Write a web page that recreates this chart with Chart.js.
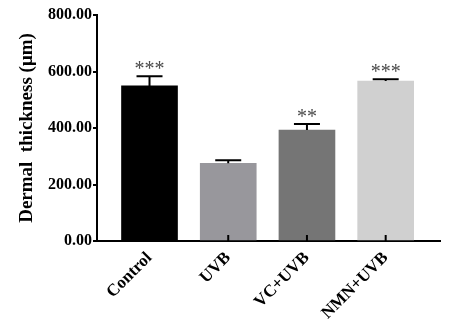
<!DOCTYPE html>
<html>
<head>
<meta charset="utf-8">
<script src="https://cdn.jsdelivr.net/npm/chart.js@4/dist/chart.umd.min.js"></script>
<style>
  body { margin: 0; background: #fff; }
  #wrap { width: 460px; height: 330px; }
</style>
</head>
<body>
<div id="wrap"><canvas id="chart" width="460" height="330"></canvas></div>
<script>
const categories = ["Control", "UVB", "VC+UVB", "NMN+UVB"];
const thickness = [549, 275, 393, 566];
const errors = [34, 11, 21, 7];
const stars = ["***", "", "**", "***"];
const barColors = ["#000000", "#98979c", "#757575", "#d0d0d0"];
const yTicks = [0, 200, 400, 600, 800];

const serif = "'Liberation Serif', 'Times New Roman', serif";

// error bars, inner x ticks and significance stars
const extras = {
    id: "extras",
    afterDatasetsDraw(chart) {
        const ctx = chart.ctx;
        const y = chart.scales.y;
        const x = chart.scales.x;
        const meta = chart.getDatasetMeta(0);
        ctx.save();
        ctx.strokeStyle = "#000";
        ctx.lineWidth = 2;
        meta.data.forEach((bar, i) => {
            let top = y.getPixelForValue(thickness[i] + errors[i]);
            let base = y.getPixelForValue(thickness[i]);
            ctx.beginPath();
            ctx.moveTo(bar.x, base);
            ctx.lineTo(bar.x, top);
            ctx.moveTo(bar.x - 13, top);
            ctx.lineTo(bar.x + 13, top);
            ctx.stroke();

            ctx.beginPath();
            ctx.moveTo(bar.x, x.top);
            ctx.lineTo(bar.x, x.top - 6);
            ctx.stroke();

            if (stars[i]) {
                ctx.fillStyle = "#4a4a4a";
                ctx.font = "20px " + serif;
                ctx.textAlign = "center";
                ctx.textBaseline = "alphabetic";
                ctx.fillText(stars[i], bar.x, top - 1);
            }
        });
        ctx.restore();
    }
};

new Chart(document.getElementById("chart"), {
    type: "bar",
    data: {
        datasets: [{
            data: thickness.map((v, i) => ({ x: i, y: v })),
            backgroundColor: barColors,
            borderWidth: 0,
            barThickness: 56
        }]
    },
    options: {
        responsive: false,
        animation: false,
        plugins: { legend: { display: false }, tooltip: { enabled: false } },
        layout: { padding: { top: 15, right: 20, left: 0, bottom: 0 } },
        scales: {
            x: {
                type: "linear",
                offset: false,
                min: -0.667,
                max: 3.69,
                afterFit: s => { s.height = 89; },
                border: { display: true, color: "#000", width: 2 },
                grid: { display: false, drawTicks: false },
                ticks: {
                    stepSize: 1,
                    includeBounds: false,
                    autoSkip: false,
                    minRotation: 45,
                    maxRotation: 45,
                    padding: 7,
                    color: "#000",
                    font: { family: serif, size: 17, weight: "bold" },
                    callback: v => Number.isInteger(v) ? categories[v] : ""
                }
            },
            y: {
                min: 0,
                max: 800,
                afterFit: s => { s.width = 97; },
                afterBuildTicks: s => { s.ticks = yTicks.map(v => ({ value: v })); },
                border: { display: true, color: "#000", width: 2 },
                grid: { drawOnChartArea: false, drawTicks: true, tickLength: 4, color: "#000", lineWidth: 2 },
                ticks: {
                    padding: 1,
                    color: "#000",
                    font: { family: serif, size: 16, weight: "bold" },
                    callback: v => v.toFixed(2)
                },
                title: {
                    display: true,
                    text: "Dermal  thickness (μm)",
                    color: "#000",
                    padding: { top: 16, bottom: 0 },
                    font: { family: serif, size: 19, weight: "bold" }
                }
            }
        }
    },
    plugins: [extras]
});
</script>
</body>
</html>
